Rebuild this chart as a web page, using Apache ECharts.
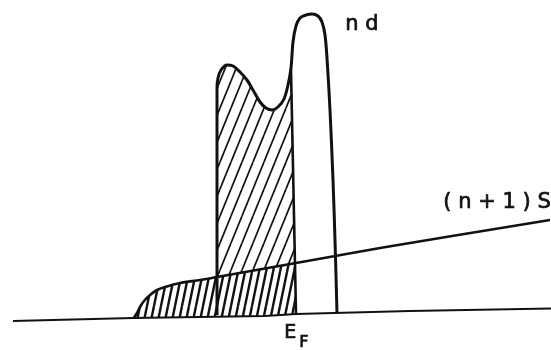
<!DOCTYPE html>
<html>
<head>
<meta charset="utf-8">
<script src="https://cdn.jsdelivr.net/npm/echarts@6/dist/echarts.min.js"></script>
<style>
  html, body { margin: 0; padding: 0; background: #fff; }
  #chart { width: 551px; height: 350px; }
</style>
</head>
<body>
<div id="chart"></div>
<script>
// Schematic density of states: narrow nd band on a broad (n+1)s band.
// Energy runs to the right, density of states upward (arbitrary units).

// Energy axis reference line (slightly tilted in the drawing)
const baseLine = [[13, 29], [133, 32], [265, 34], [296, 36], [410, 39], [551, 41.5]];

// (n+1)s band: sharp onset, then a slowly rising straight line
const sBand = [
  [134, 32.5], [137, 37], [140, 43], [144, 49], [150, 55], [157, 60],
  [165, 63], [180, 67], [200, 70], [217, 73], [296, 87], [380, 102], [550, 130]
];

// nd band: double-peaked narrow band
const dBand = [
  [217, 35], [217, 120], [217, 262], [218, 272], [221, 280], [227, 285],
  [233, 284], [240, 278], [247, 270], [253, 260], [260, 248], [266, 242],
  [272, 240], [278, 243], [284, 251], [288, 265], [291, 282], [293, 308],
  [296, 324], [300, 332], [306, 335], [312, 336], [318, 334], [322, 328],
  [325, 315], [327, 292], [330, 240], [333, 170], [335, 110], [337, 37]
];

// Fermi level: occupied states lie to the left of this line
const fermiLine = [[291, 280], [296, 36]];

const labelNd = 'n d';
const labelS = '( n + 1 ) S';
const labelE = 'E';
const labelF = 'F';

// x position of the Fermi line at height y
function fermiX(y) {
  const [a, b] = fermiLine;
  return a[0] + (a[1] - y) / (a[1] - b[1]) * (b[0] - a[0]);
}

// Hatch pattern tiles
function hatch(w, h, lw) {
  const c = document.createElement('canvas');
  c.width = w; c.height = h;
  const g = c.getContext('2d');
  g.strokeStyle = '#111';
  g.lineWidth = lw;
  for (let k = -1; k <= 1; k++) {
    g.beginPath();
    g.moveTo(k * w, h);
    g.lineTo(k * w + w, 0);
    g.stroke();
  }
  return c;
}
const hatchS = { image: hatch(7, 34, 2.4), repeat: 'repeat' };
const hatchD = { image: hatch(11, 27, 1.7), repeat: 'repeat' };

const sTop = sBand.find(p => p[0] === 296)[1];
const sAt217 = sBand.find(p => p[0] === 217);

// Occupied part of the s band: below the s curve, left of E_F
const sOccupied = sBand.filter(p => p[0] < 296)
  .concat([[fermiX(sTop), sTop], [fermiX(36), 36]])
  .concat(baseLine.filter(p => p[0] >= sBand[0][0] && p[0] < 296).reverse())
  .concat([[sBand[0][0], sBand[0][1]]]);

// Occupied part of the d band: between s curve and d curve, left of E_F
const dOccupied = [sAt217]
  .concat(dBand.filter(p => p[0] < 291 && p[1] > sAt217[1]))
  .concat([fermiLine[0], [fermiX(sTop), sTop]]);

function polygonSeries(points, fill) {
  return {
    type: 'custom',
    coordinateSystem: 'cartesian2d',
    data: [[0, 0]],
    silent: true,
    z: 1,
    renderItem: function (params, api) {
      return {
        type: 'polygon',
        shape: { points: points.map(p => api.coord(p)) },
        style: { fill: fill, stroke: null }
      };
    }
  };
}

const chart = echarts.init(document.getElementById('chart'), null, { renderer: 'canvas' });

const lineBase = { type: 'line', symbol: 'none', silent: true, z: 3 };
const ink = '#111';
const textStyle = (text, size) => ({
  text: text, font: size + 'px "DejaVu Sans"', fill: ink, stroke: ink, lineWidth: 0.7
});

chart.setOption({
  animation: false,
  backgroundColor: '#fff',
  grid: { left: 0, right: 0, top: 0, bottom: 0 },
  xAxis: { type: 'value', min: 0, max: 551, show: false },
  yAxis: { type: 'value', min: 0, max: 350, show: false },
  series: [
    polygonSeries(sOccupied, hatchS),
    polygonSeries(dOccupied, hatchD),
    Object.assign({}, lineBase, {
      data: baseLine,
      lineStyle: { color: ink, width: 2.2 }
    }),
    Object.assign({}, lineBase, {
      data: sBand, smooth: 0.3,
      lineStyle: { color: ink, width: 2.6 }
    }),
    Object.assign({}, lineBase, {
      data: dBand, smooth: 0.3,
      lineStyle: { color: ink, width: 3 }
    }),
    Object.assign({}, lineBase, {
      data: fermiLine,
      lineStyle: { color: ink, width: 2.6 }
    })
  ],
  graphic: [
    { type: 'text', left: 345, top: 14, silent: true, style: textStyle(labelNd, 21) },
    { type: 'text', left: 443, top: 192, silent: true, style: textStyle(labelS, 21) },
    { type: 'text', left: 284, top: 323, silent: true, style: textStyle(labelE, 19) },
    { type: 'text', left: 299, top: 334, silent: true, style: textStyle(labelF, 16) }
  ]
});
</script>
</body>
</html>
